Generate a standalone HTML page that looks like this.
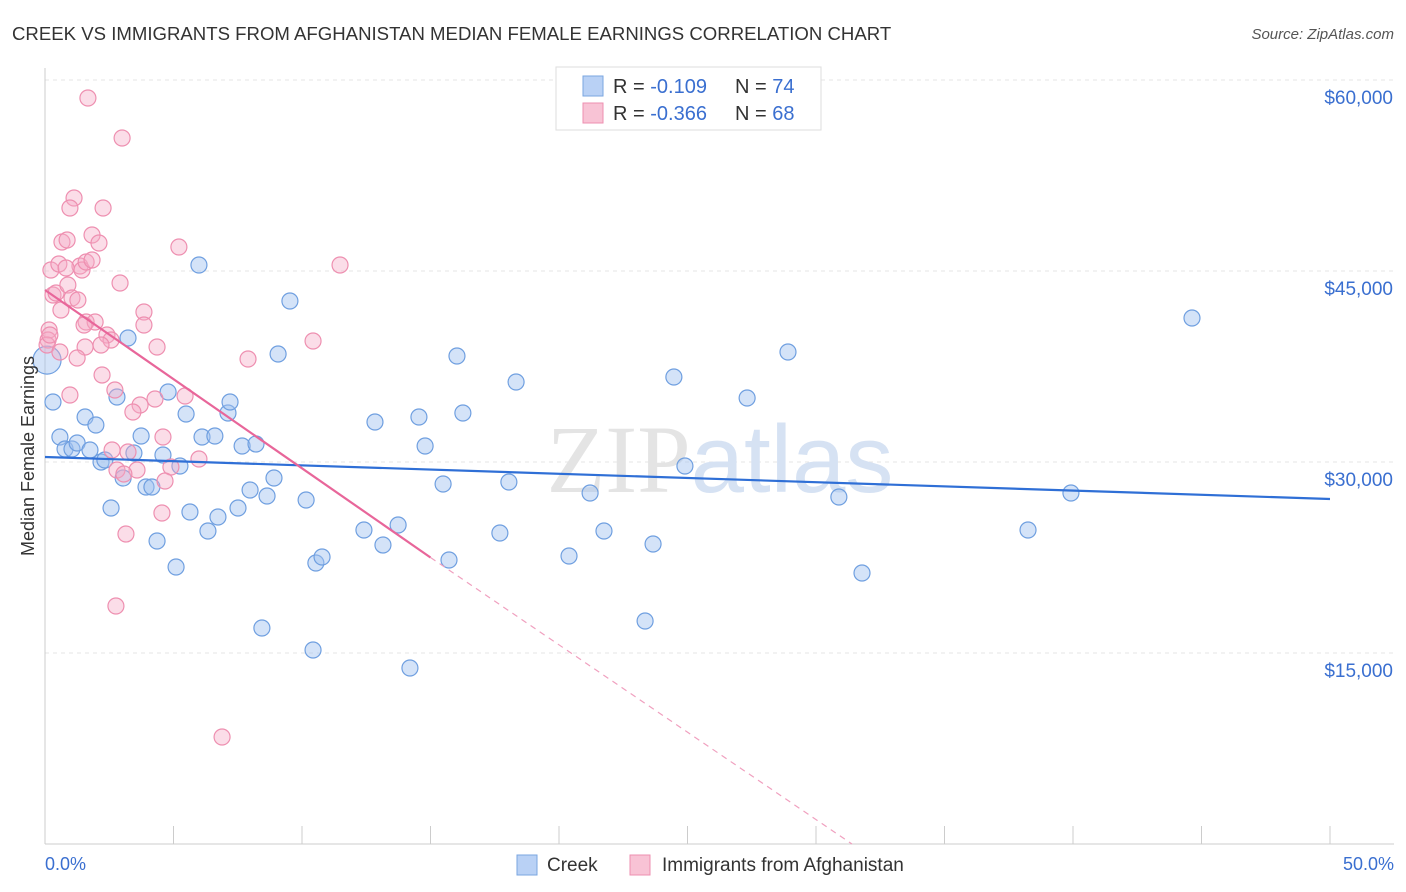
<!DOCTYPE html>
<html><head><meta charset="utf-8"><style>
body{margin:0;background:#fff;font-family:"Liberation Sans",sans-serif}
svg{display:block}
</style></head><body>
<svg width="1406" height="892" xmlns="http://www.w3.org/2000/svg">
<text x="12" y="40" font-size="18.6" fill="#333">CREEK VS IMMIGRANTS FROM AFGHANISTAN MEDIAN FEMALE EARNINGS CORRELATION CHART</text>
<text x="1394" y="39" font-size="15" fill="#555" text-anchor="end" font-style="italic">Source: ZipAtlas.com</text>
<g id="grid"></g>
<text x="720" y="492" font-size="96" fill="#e4e4e4" text-anchor="middle" font-family="Liberation Serif">ZIP<tspan fill="#d6e2f3" font-family="Liberation Sans">atlas</tspan></text>
<g id="axes"></g>
<g id="pts"></g>
<g id="lines"></g>
<text transform="translate(34,456) rotate(-90)" font-size="18" fill="#333" text-anchor="middle">Median Female Earnings</text>
<text x="45" y="870" font-size="18" fill="#3a6fd0">0.0%</text>
<text x="1394" y="870" font-size="18" fill="#3a6fd0" text-anchor="end">50.0%</text>
<g>
<rect x="556" y="67" width="265" height="63" fill="#fff" stroke="#ddd"/>
<rect x="583" y="76" width="20" height="20" fill="#b9d1f5" stroke="#7aa6e0"/>
<rect x="583" y="103" width="20" height="20" fill="#f8c3d5" stroke="#ee8fb0"/>
<text x="613" y="93" font-size="20" fill="#333">R = <tspan fill="#3a6fd0">-0.109</tspan><tspan x="735">N = </tspan><tspan fill="#3a6fd0">74</tspan></text>
<text x="613" y="120" font-size="20" fill="#333">R = <tspan fill="#3a6fd0">-0.366</tspan><tspan x="735">N = </tspan><tspan fill="#3a6fd0">68</tspan></text>
</g>
<g>
<rect x="517" y="855" width="20" height="20" fill="#b9d1f5" stroke="#7aa6e0"/>
<text x="547" y="871" font-size="19" fill="#333">Creek</text>
<rect x="630" y="855" width="20" height="20" fill="#f8c3d5" stroke="#ee8fb0"/>
<text x="662" y="871" font-size="19" fill="#333">Immigrants from Afghanistan</text>
</g>
</svg>
<script>
const yTicks=[15000,30000,45000,60000];
const yTickLabels=["$15,000","$30,000","$45,000","$60,000"];
const xTicks=[0,5,10,15,20,25,30,35,40,45,50];
const creekX=[0.08,0.31,0.58,0.78,1.05,1.25,1.56,1.75,1.98,2.18,2.33,2.57,2.80,3.04,3.23,3.46,3.74,3.93,4.16,4.36,4.59,4.79,5.10,5.25,5.49,5.64,5.99,6.11,6.34,6.61,6.73,7.12,7.20,7.51,7.67,7.98,8.21,8.44,8.64,8.91,9.07,9.53,10.16,10.43,10.54,10.78,12.41,12.84,13.15,13.74,14.20,14.55,14.79,15.49,15.72,16.03,16.26,17.70,18.05,18.33,20.39,21.21,21.75,23.35,23.66,24.47,24.90,27.32,28.91,30.89,31.79,38.25,39.92,44.63];
const creekY=[38000,34710,31962,31019,31019,31490,33532,30941,32904,29998,30155,26386,35103,28742,39736,30705,32040,28035,28035,23795,30548,35496,21753,29684,33768,26072,45469,31962,24580,32040,25679,33846,34710,26386,31255,27800,31412,16962,27328,28742,38480,42642,27014,15235,22067,22538,24658,33140,23480,25051,13821,33532,31255,28271,22303,38323,33846,24423,28428,36281,22617,27564,24580,17512,23559,36674,29684,35024,38637,27250,21282,24658,27564,41307];
const afgX=[1.67,3.00,1.13,0.97,2.26,1.83,0.66,0.86,2.10,5.21,11.48,0.23,0.54,1.36,1.44,1.60,0.82,1.83,2.92,0.31,0.43,0.89,0.62,1.60,1.95,3.85,3.85,1.52,0.16,0.12,0.08,2.41,2.57,10.43,1.56,2.18,4.36,7.90,1.25,2.22,2.72,0.97,5.45,4.28,3.70,3.42,4.59,2.61,3.23,3.58,5.99,4.90,2.80,3.07,4.67,4.55,3.15,2.76,6.89,0.19,0.58,1.05,1.28];
const afgY=[58583,55442,50730,49945,49945,47825,47275,47432,47197,46882,45469,45076,45547,45390,45076,45704,45233,45862,44055,43113,43270,43898,41935,40993,40993,41778,40757,40757,40364,39579,39186,39972,39579,39501,39029,39186,39029,38087,38166,36831,35653,35260,35181,34946,34475,33925,31962,30941,30784,29370,30234,29606,29370,29056,28506,25993,24344,18690,8403,39972,38637,42877,42720];
const creekTrend=[30393,27094];
const afgTrend=[43508,22500,0];
const afgTrendX=[0,15,31.4];
const NS="http://www.w3.org/2000/svg";
const X=v=>45+v*25.7, Y=v=>844-v/78.53;
function mk(t,a,p){const e=document.createElementNS(NS,t);for(const k in a)e.setAttribute(k,a[k]);p.appendChild(e);return e;}
const grid=document.getElementById('grid'),axes=document.getElementById('axes'),pts=document.getElementById('pts'),lines=document.getElementById('lines');
yTicks.forEach((t,i)=>{
 const l=mk('line',{x1:45,x2:1394,y1:Y(t),y2:Y(t),stroke:'#e6e6e6','stroke-dasharray':'4,4'},grid);
 
 
 const tx=mk('text',{x:1393,y:Y(t)+24,'font-size':19,fill:'#3a6fd0','text-anchor':'end'},axes);
 tx.textContent=yTickLabels[i];
 
 
});
const ya=mk('line',{x1:45,x2:45,y1:68,y2:844,stroke:'#ccc'},axes);


const xa=mk('line',{x1:45,x2:1394,y1:844,y2:844,stroke:'#ccc'},axes);


xTicks.forEach(t=>{const l=mk('line',{x1:X(t),x2:X(t),y1:826,y2:844,stroke:'#ccc'},axes);
 
 });
creekX.forEach((x,i)=>{const c=mk('circle',{cx:X(x),cy:Y(creekY[i]),r:i===0?14:8,fill:'rgba(160,192,240,0.45)',stroke:'#6f9fe0','stroke-width':1.2},pts);
 
 });
afgX.forEach((x,i)=>{const c=mk('circle',{cx:X(x),cy:Y(afgY[i]),r:8,fill:'rgba(246,170,198,0.4)',stroke:'#ee8fb0','stroke-width':1.2},pts);
 
 });
const cl=mk('line',{x1:X(0),y1:Y(creekTrend[0]),x2:X(50),y2:Y(creekTrend[1]),stroke:'#2f6fd6','stroke-width':2.2},lines);


const al=mk('line',{x1:X(afgTrendX[0]),y1:Y(afgTrend[0]),x2:X(afgTrendX[1]),y2:Y(afgTrend[1]),stroke:'#e8669a','stroke-width':2.2},lines);


const ad=mk('line',{x1:X(afgTrendX[1]),y1:Y(afgTrend[1]),x2:X(afgTrendX[2]),y2:Y(afgTrend[2]),stroke:'#f0a0bf','stroke-width':1.2,'stroke-dasharray':'6,5'},lines);


</script>
</body></html>
